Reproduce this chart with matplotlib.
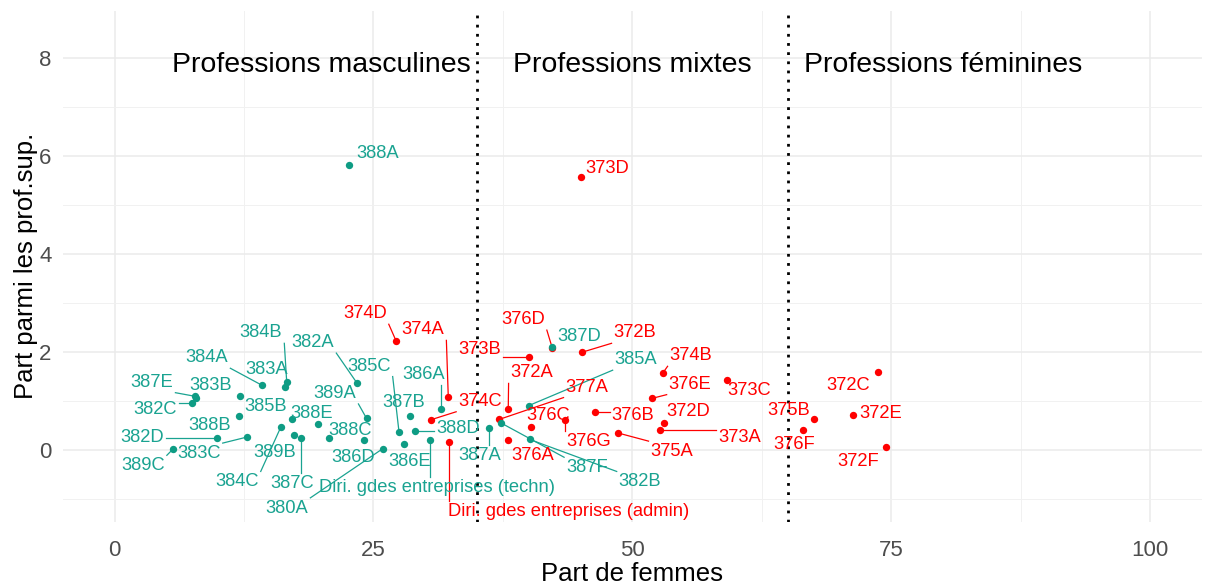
import matplotlib
matplotlib.use("Agg")
import matplotlib.pyplot as plt
import numpy as np

plt.rcParams['font.family'] = ['Liberation Sans', 'DejaVu Sans']

# ---------------- data ----------------
teal_codes = ["388A", "384B", "383A", "384A", "382A", "387E", "383B", "382C", "385B", "388B",
              "382D", "389C", "383C", "384C", "388E", "386B", "389B", "387C", "388C", "389A",
              "386D", "380A", "386A", "387B", "385C", "388D", "386E",
              "Diri. gdes entreprises (techn)", "387A", "387F", "385A", "382B", "387D"]
teal_x = [22.64, 16.62, 16.46, 14.21, 23.38, 7.81, 7.91, 7.51, 12.12, 12.05,
          9.93, 5.68, 12.82, 16.07, 17.11, 19.68, 17.36, 18.00, 20.74, 24.33,
          24.12, 25.89, 31.51, 28.53, 27.46, 29.00, 27.95,
          30.46, 36.18, 37.28, 39.97, 40.07, 42.26]
teal_y = [5.83, 1.39, 1.28, 1.32, 1.37, 1.09, 1.06, 0.95, 1.09, 0.68,
          0.23, 0.02, 0.26, 0.47, 0.62, 0.53, 0.30, 0.23, 0.23, 0.64,
          0.20, 0.02, 0.83, 0.68, 0.37, 0.39, 0.11,
          0.20, 0.45, 0.55, 0.90, 0.21, 2.10]

red_codes = ["373D", "374D", "374A", "376D", "372B", "373B", "372A", "374C", "377A", "374B",
             "376E", "373C", "376C", "376G", "376B", "372D", "373A", "375A", "376A",
             "Diri. gdes entreprises (admin)", "372C", "372E", "375B", "376F", "372F"]
red_x = [45.04, 27.17, 32.22, 42.26, 45.09, 40.02, 38.01, 30.52, 37.15, 52.91,
         51.91, 59.15, 40.16, 43.49, 46.39, 53.04, 52.66, 48.63, 38.01,
         32.29, 73.72, 71.33, 67.54, 66.45, 74.51]
red_y = [5.57, 2.23, 1.08, 2.08, 1.99, 1.90, 0.84, 0.61, 0.62, 1.56,
         1.05, 1.42, 0.46, 0.61, 0.78, 0.54, 0.41, 0.34, 0.19,
         0.16, 1.58, 0.71, 0.63, 0.41, 0.05]

hidden_labels = ["386B"]

zones = ["Professions masculines", "Professions mixtes", "Professions féminines"]
zone_x = [20, 50, 80]
zone_y = 8
thresholds = [35, 65]

# ---------------- label layout (repelled positions, data coords) ----------------
label_pos = {
    "388A": (25.44, 6.06), "384B": (14.14, 2.39), "382A": (19.16, 2.19), "384A": (8.93, 1.88),
    "383A": (14.72, 1.63), "387E": (3.62, 1.38), "383B": (9.31, 1.32), "382C": (3.90, 0.82),
    "385B": (14.63, 0.89), "389A": (21.29, 1.15), "388E": (19.07, 0.74), "388B": (9.22, 0.49),
    "388C": (22.73, 0.39), "382D": (2.65, 0.25), "383C": (8.15, -0.08), "389B": (15.49, -0.06),
    "389C": (2.75, -0.33), "384C": (11.82, -0.66), "387C": (17.14, -0.70), "380A": (16.65, -1.20),
    "386D": (23.02, -0.16), "385C": (24.56, 1.71), "387B": (27.95, 0.97), "386A": (29.88, 1.53),
    "388D": (33.15, 0.43), "386E": (28.53, -0.25), "Diri. gdes entreprises (techn)": (31.13, -0.78),
    "387A": (35.28, -0.12), "387D": (44.83, 2.31), "385A": (50.34, 1.84), "387F": (45.61, -0.37),
    "382B": (50.73, -0.66),
    "373D": (47.54, 5.75), "374D": (24.17, 2.78), "374A": (29.78, 2.45), "376D": (39.43, 2.66),
    "372B": (50.24, 2.39), "373B": (35.28, 2.04), "374B": (55.65, 1.92), "372A": (40.30, 1.57),
    "376E": (55.56, 1.34), "377A": (45.61, 1.28), "373C": (61.25, 1.20), "374C": (35.28, 0.99),
    "372D": (55.36, 0.78), "376C": (41.85, 0.70), "376B": (50.05, 0.70), "375B": (65.10, 0.80),
    "372E": (73.98, 0.74), "372C": (70.80, 1.32), "376G": (45.80, 0.16), "373A": (60.37, 0.25),
    "376F": (65.59, 0.10), "376A": (40.39, -0.12), "375A": (53.81, -0.04), "372F": (71.76, -0.25),
    "Diri. gdes entreprises (admin)": (43.87, -1.26),
}

TEAL = "#0E9C84"
TEAL_TXT = "#1AA391"
RED = "#FF0000"

fig = plt.figure(figsize=(12.16, 5.84), dpi=100)
ax = fig.add_axes([0.0516, 0.1065, 0.937, 0.875])

ax.set_xlim(-5, 105)
ax.set_ylim(-1.475, 8.975)
ax.set_xticks([0, 25, 50, 75, 100])
ax.set_yticks([0, 2, 4, 6, 8])
ax.set_xticks([12.5, 37.5, 62.5, 87.5], minor=True)
ax.set_yticks([-1, 1, 3, 5, 7], minor=True)
ax.grid(True, which='major', color='#EBEBEB', lw=1.1)
ax.grid(True, which='minor', color='#F1F1F1', lw=0.7)
ax.set_axisbelow(True)
for s in ax.spines.values():
    s.set_visible(False)
ax.tick_params(which='both', length=0, labelsize=16, colors='#4D4D4D')
ax.tick_params(axis='x', pad=13)
ax.tick_params(axis='y', pad=8)
ax.set_xlabel("Part de femmes", fontsize=18.5, labelpad=1)
ax.set_ylabel("Part parmi les prof.sup.", fontsize=18.5, labelpad=1)

for t in thresholds:
    ax.axvline(t, color='black', ls=(0, (1, 2.3)), lw=2.0, zorder=1)

for name, zx in zip(zones, zone_x):
    ax.annotate(name, (zx, zone_y), xytext=(0, -9.7), textcoords='offset points',
                fontsize=20.5, ha='center', va='baseline', color='black', zorder=5)

ax.scatter(red_x, red_y, s=28, color=RED, zorder=4, linewidths=0)
ax.scatter(teal_x, teal_y, s=28, color=TEAL, zorder=4, linewidths=0)

texts = []
for codes, xs, ys, col in [(red_codes, red_x, red_y, RED),
                           (teal_codes, teal_x, teal_y, TEAL_TXT)]:
    for c, x, y in zip(codes, xs, ys):
        if c in hidden_labels:
            continue
        lx, ly = label_pos[c]
        t = ax.text(lx, ly, c, fontsize=13.2, color=col, ha='center', va='center', zorder=6)
        texts.append((t, x, y, col))

fig.canvas.draw()
renderer = fig.canvas.get_renderer()
inv = ax.transData.inverted()
for t, x, y, col in texts:
    bb = t.get_window_extent(renderer)
    px, py = ax.transData.transform((x, y))
    pad = 2
    x0, x1 = bb.x0 - pad, bb.x1 + pad
    y0, y1 = bb.y0 - pad, bb.y1 + pad
    cx = min(max(px, x0), x1)
    cy = min(max(py, y0), y1)
    d = np.hypot(px - cx, py - cy)
    if d > 8:
        (dx0, dy0) = inv.transform((px, py))
        (dx1, dy1) = inv.transform((cx, cy))
        ax.plot([dx0, dx1], [dy0, dy1], color=col, lw=0.9, zorder=3)

fig.savefig("out.png", dpi=100)
